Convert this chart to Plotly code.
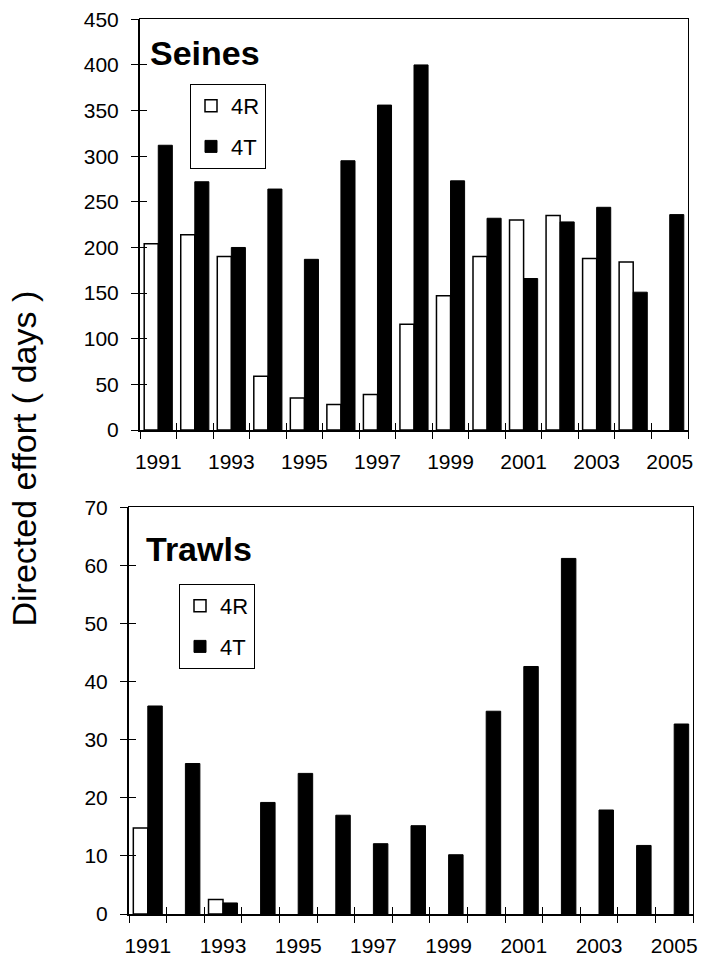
import plotly.graph_objects as go

years = list(range(1991, 2006))
seines_4r = [204, 214, 190, 59, 35, 28, 39, 116, 147, 190, 230, 235, 188, 184, None]
seines_4t = [312, 272, 200, 264, 187, 295, 356, 400, 273, 232, 166, 228, 244, 151, 236]
trawls_4r = [14.8, None, 2.5, None, None, None, None, None, None, None, None, None, None, None, None]
trawls_4t = [35.8, 25.9, 1.9, 19.2, 24.2, 17.0, 12.1, 15.2, 10.2, 34.9, 42.6, 61.2, 17.9, 11.8, 32.7]
label_years = [1991, 1993, 1995, 1997, 1999, 2001, 2003, 2005]
seines_ticks = list(range(0, 451, 50))
trawls_ticks = list(range(0, 71, 10))

FONT = "Arial, Liberation Sans, sans-serif"
bounds = [y - 0.5 for y in years] + [years[-1] + 0.5]
xr = [years[0] - 0.5, years[-1] + 0.5]

fig = go.Figure()

def add_pair(r, t, xa, ya, leg):
    fig.add_trace(go.Bar(x=years, y=r, name="4R", xaxis=xa, yaxis=ya, legend=leg,
                         legendgroup="r" + leg,
                         marker=dict(color="white", line=dict(color="black", width=1.5))))
    fig.add_trace(go.Bar(x=years, y=t, name="4T", xaxis=xa, yaxis=ya, legend=leg,
                         legendgroup="t" + leg,
                         marker=dict(color="black", line=dict(color="black", width=1))))

add_pair(seines_4r, seines_4t, "x", "y", "legend")
add_pair(trawls_4r, trawls_4t, "x2", "y2", "legend2")
# empty traces to register overlay axes (tick marks inside the frame)
fig.add_trace(go.Bar(x=[], y=[], xaxis="x3", yaxis="y3", showlegend=False))
fig.add_trace(go.Bar(x=[], y=[], xaxis="x4", yaxis="y4", showlegend=False))

def main_x(domain, anchor):
    return dict(domain=domain, anchor=anchor, range=xr, showgrid=False, zeroline=False,
                automargin=False,
                showline=True, linecolor="black", linewidth=2,
                tickmode="array", tickvals=label_years, ticktext=[str(v) for v in label_years],
                ticks="", ticklabelstandoff=12,
                tickfont=dict(family=FONT, size=21, color="black"),
                minor=dict(tickmode="array", tickvals=bounds, ticks="outside",
                           ticklen=7, tickwidth=1, tickcolor="black"))

def main_y(domain, anchor, rng, tv):
    return dict(domain=domain, anchor=anchor, range=rng, showgrid=False, zeroline=False,
                automargin=False,
                showline=True, linecolor="black", linewidth=2,
                tickmode="array", tickvals=tv, ticks="outside", ticklen=7,
                tickwidth=1, tickcolor="black", ticklabelstandoff=8,
                tickfont=dict(family=FONT, size=21, color="black"))

def over_x(overl, anchor):
    return dict(overlaying=overl, anchor=anchor, range=xr, showgrid=False, zeroline=False,
                automargin=False,
                showline=True, linecolor="black", linewidth=1, mirror=True,
                tickmode="array", tickvals=bounds, ticks="inside", ticklen=7,
                tickwidth=1, tickcolor="black", showticklabels=False)

def over_y(overl, anchor, rng, tv):
    return dict(overlaying=overl, anchor=anchor, range=rng, showgrid=False, zeroline=False,
                automargin=False,
                showline=True, linecolor="black", linewidth=1, mirror=True,
                tickmode="array", tickvals=tv, ticks="inside", ticklen=7,
                tickwidth=1, tickcolor="black", showticklabels=False)

top_x = [140 / 701, 688 / 701]
top_y = [1 - 430 / 961, 1 - 19.3 / 961]
bot_x = [129 / 701, 693 / 701]
bot_y = [1 - 914 / 961, 1 - 507.3 / 961]

legend_style = dict(font=dict(family=FONT, size=22, color="black"), bgcolor="white",
                    bordercolor="black", borderwidth=1, xanchor="left", yanchor="top",
                    tracegroupgap=9, traceorder="grouped", itemwidth=30)

fig.update_layout(
    template="none",
    width=701, height=961,
    margin=dict(l=0, r=0, t=0, b=0, pad=0),
    paper_bgcolor="white", plot_bgcolor="white",
    barmode="group", bargap=0.23, bargroupgap=0,
    xaxis=main_x(top_x, "y"),
    yaxis=main_y(top_y, "x", [0, 450], seines_ticks),
    xaxis2=main_x(bot_x, "y2"),
    yaxis2=main_y(bot_y, "x2", [0, 70], trawls_ticks),
    xaxis3=dict(over_x("x", "y3"), domain=top_x),
    yaxis3=dict(over_y("y", "x3", [0, 450], seines_ticks), domain=top_y),
    xaxis4=dict(over_x("x2", "y4"), domain=bot_x),
    yaxis4=dict(over_y("y2", "x4", [0, 70], trawls_ticks), domain=bot_y),
    legend=dict(legend_style, x=190 / 701, y=1 - 84 / 961),
    legend2=dict(legend_style, x=179 / 701, y=1 - 584 / 961),
    annotations=[
        dict(text="<b>Seines</b>", x=148 / 701, y=1 - 52.5 / 961, xref="paper", yref="paper",
             xanchor="left", yanchor="middle", showarrow=False,
             font=dict(family=FONT, size=34, color="black")),
        dict(text="<b>Trawls</b>", x=144 / 701, y=1 - 549.2 / 961, xref="paper", yref="paper",
             xanchor="left", yanchor="middle", showarrow=False,
             font=dict(family=FONT, size=34, color="black")),
        dict(text="Directed effort ( days )", x=23 / 701, y=1 - 458.5 / 961,
             xref="paper", yref="paper", xanchor="center", yanchor="middle",
             textangle=-90, showarrow=False,
             font=dict(family=FONT, size=34, color="black")),
    ],
)

fig.write_html("out.html")
